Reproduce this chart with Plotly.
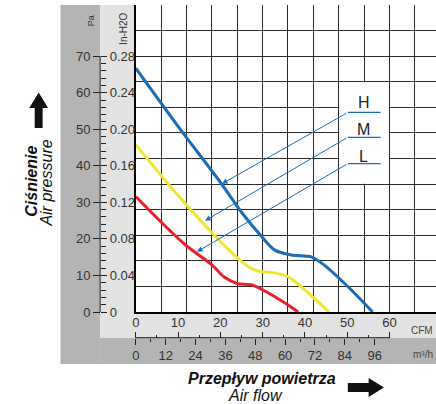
import plotly.graph_objects as go

# ---------------- data ----------------
H_cfm = [0, 10, 20, 25, 29.8, 32.8, 36.8, 41.5, 44.5, 50.2, 56]
H_pa = [66.7, 50.8, 35.5, 27.3, 20.6, 17.0, 15.6, 15.1, 12.9, 6.9, 0]
M_cfm = [0, 9.4, 18, 22.7, 25.1, 27.5, 29.8, 32.8, 36.1, 40.8, 45.7]
M_pa = [45.8, 32.7, 21.7, 16.2, 13.7, 11.8, 11.0, 10.7, 9.6, 5.2, 0]
L_cfm = [0, 5.9, 11.7, 18, 21, 24, 27.5, 31.4, 35.2, 38.4]
L_pa = [31.6, 24.7, 18.4, 12.9, 9.5, 7.8, 7.4, 5.2, 2.5, 0]

pa_ticks = [0, 10, 20, 30, 40, 50, 60, 70]
inh2o_ticks = [0, 0.04, 0.08, 0.12, 0.16, 0.20, 0.24, 0.28]
inh2o_text = ["0", "0.04", "0.08", "0.12", "0.16", "0.20", "0.24", "0.28"]
cfm_ticks = [0, 10, 20, 30, 40, 50, 60]
m3h_ticks = [0, 12, 24, 36, 48, 60, 72, 84, 96]

series_names = ["H", "M", "L"]
colors = {"H": "#1b6db3", "M": "#f2e52f", "L": "#e8202a"}

# ---------------- geometry helpers ----------------
W, Hh = 436, 404
MT, MB = 5, 40
PH = Hh - MT - MB  # paper height


def px(xp):
    return xp / W


def py(yp):
    return (Hh - MB - yp) / PH


FONT = "Liberation Sans, Arial, sans-serif"
X_MAX = 71.0
Y_MAX = 84.0
PA_PER_INH2O = 250.0
M3H_PER_CFM = 1.699

fig = go.Figure()

for name, xs, ys in [("H", H_cfm, H_pa), ("M", M_cfm, M_pa), ("L", L_cfm, L_pa)]:
    fig.add_trace(go.Scatter(x=xs, y=ys, mode="lines", name=name,
                             line=dict(color=colors[name], width=3, shape="spline", smoothing=0.8),
                             showlegend=False, hoverinfo="skip"))

# dummy traces to activate helper axes
fig.add_trace(go.Scatter(x=[None], y=[None], xaxis="x", yaxis="y2", showlegend=False))
fig.add_trace(go.Scatter(x=[None], y=[None], xaxis="x", yaxis="y3", showlegend=False))
fig.add_trace(go.Scatter(x=[None], y=[None], xaxis="x2", yaxis="y", showlegend=False))
fig.add_trace(go.Scatter(x=[None], y=[None], xaxis="x3", yaxis="y", showlegend=False))

axis_line_y = py(337.7)
tickfont = dict(family=FONT, size=13, color="#333")

fig.update_layout(
    width=W, height=Hh,
    margin=dict(l=0, r=0, t=MT, b=MB),
    paper_bgcolor="white", plot_bgcolor="white",
    xaxis=dict(domain=[px(133), 1], range=[0, X_MAX], tick0=0, dtick=6,
               showticklabels=False, ticks="", showgrid=True, gridcolor="#2a2a2a", gridwidth=1,
               showline=True, linecolor="black", linewidth=1.5, zeroline=False, fixedrange=True),
    yaxis=dict(domain=[py(312), 1], range=[0, Y_MAX], tick0=0, dtick=7,
               showticklabels=False, ticks="", showgrid=True, gridcolor="#2a2a2a", gridwidth=1,
               showline=True, linecolor="black", linewidth=1.5, zeroline=False, fixedrange=True),
    yaxis2=dict(overlaying="y", anchor="free", position=px(97), side="left",
                range=[0, Y_MAX], tickmode="array", tickvals=pa_ticks,
                ticks="outside", ticklen=7, tickcolor="#222", tickwidth=1,
                tickfont=tickfont, showgrid=False, showline=False, zeroline=False),
    yaxis3=dict(overlaying="y", anchor="free", position=px(97), side="right",
                range=[0, Y_MAX / PA_PER_INH2O], tickmode="array", tickvals=inh2o_ticks,
                ticktext=inh2o_text, ticks="outside", ticklen=6, tickcolor="#222", tickwidth=1,
                tickfont=tickfont, showgrid=False, showline=False, zeroline=False,
                minor=dict(tickmode="array",
                           tickvals=[round(i * 0.008, 3) for i in range(36) if i % 5 != 0],
                           ticks="outside", ticklen=5, tickcolor="#222", showgrid=False)),
    xaxis2=dict(overlaying="x", anchor="free", position=axis_line_y, side="top",
                range=[0, X_MAX], tickmode="array", tickvals=cfm_ticks,
                ticks="outside", ticklen=6, tickcolor="#222", tickfont=tickfont,
                showgrid=False, showline=False, zeroline=False,
                minor=dict(tickmode="array", tickvals=[5, 15, 25, 35, 45, 55],
                           ticks="outside", ticklen=3, tickcolor="#222", showgrid=False)),
    xaxis3=dict(overlaying="x", anchor="free", position=axis_line_y, side="bottom",
                range=[0, X_MAX * M3H_PER_CFM], tickmode="array", tickvals=m3h_ticks,
                ticks="outside", ticklen=6, tickcolor="#222", tickfont=tickfont,
                showgrid=False, showline=False, zeroline=False,
                minor=dict(tickmode="array", tickvals=[6, 18, 30, 42, 54, 66, 78, 90],
                           ticks="outside", ticklen=3, tickcolor="#222", showgrid=False)),
)

DARK = "#b4b4b4"
LIGHT = "#e2e2e2"
shapes = [
    dict(type="rect", xref="paper", yref="paper", x0=px(57), x1=px(97), y0=py(364), y1=py(5),
         fillcolor=DARK, line=dict(width=0), layer="below"),
    dict(type="rect", xref="paper", yref="paper", x0=px(97), x1=px(436), y0=py(364), y1=py(338),
         fillcolor=DARK, line=dict(width=0), layer="below"),
    dict(type="rect", xref="paper", yref="paper", x0=px(97), x1=px(133), y0=py(338), y1=py(5),
         fillcolor=LIGHT, line=dict(width=0), layer="below"),
    dict(type="rect", xref="paper", yref="paper", x0=px(133), x1=px(436), y0=py(338), y1=py(312),
         fillcolor=LIGHT, line=dict(width=0), layer="below"),
    # pressure axis line (0..70 Pa)
    dict(type="line", xref="paper", yref="y", x0=px(97), x1=px(97), y0=0, y1=70,
         line=dict(color="#222", width=1)),
    # flow axis line (0..60 CFM)
    dict(type="line", xref="x", yref="paper", x0=0, x1=60, y0=axis_line_y, y1=axis_line_y,
         line=dict(color="#222", width=1)),
    # white label box
    dict(type="rect", xref="x", yref="y", x0=48.12, x1=59.88, y0=35.12, y1=62.88,
         fillcolor="white", line=dict(width=0), layer="above"),
]


def poly(points):
    s = "M " + " L ".join(f"{px(a):.5f},{py(b):.5f}" for a, b in points) + " Z"
    return s


up_arrow = [(31, 128), (39, 128), (39, 108), (44.5, 108), (35, 92.5), (25.5, 108), (31, 108)]
right_arrow = [(347, 383), (368, 383), (368, 378), (383.5, 387.5), (368, 397), (368, 392), (347, 392)]
for pts in (up_arrow, right_arrow):
    shapes.append(dict(type="path", xref="paper", yref="paper", path=poly(pts),
                       fillcolor="#111", line=dict(width=0)))

# callout underlines
label_pa = {"H": 57.4, "M": 50.0, "L": 42.5}
under_pa = {"H": 54.6, "M": 47.8, "L": 40.6}
tip = {"H": (20.4, 35.1), "M": (16.4, 25.0), "L": (14.5, 16.5)}
BLUE = "#1b6db3"
for n in series_names:
    shapes.append(dict(type="line", xref="x", yref="y", x0=50.15, x1=57.9,
                       y0=under_pa[n], y1=under_pa[n], line=dict(color=BLUE, width=1.2)))

fig.update_layout(shapes=shapes)

ann = []
for n in series_names:
    ann.append(dict(xref="x", yref="y", x=53.9, y=label_pa[n], text=n, showarrow=False,
                    font=dict(family=FONT, size=16, color="#222"), xanchor="center", yanchor="middle"))
    ann.append(dict(xref="x", yref="y", axref="x", ayref="y", x=tip[n][0], y=tip[n][1],
                    ax=50.15, ay=under_pa[n], text="", showarrow=True, arrowhead=2,
                    arrowsize=1.1, arrowwidth=1, arrowcolor=BLUE))


def txt(x, y, text, size, angle=0, color="#222"):
    ann.append(dict(xref="paper", yref="paper", x=px(x), y=py(y), text=text, showarrow=False,
                    textangle=angle, font=dict(family=FONT, size=size, color=color),
                    xanchor="center", yanchor="middle"))


txt(88, 21, "Pa", 9, -90, "#333")
txt(121, 29, "In-H2O", 10, -90, "#333")
txt(27, 181, "<b><i>Ciśnienie</i></b>", 16, -90, "#111")
txt(43, 183, "<i>Air pressure</i>", 16, -90, "#111")
txt(260, 378, "<b><i>Przepływ powietrza</i></b>", 16, 0, "#111")
txt(254, 395, "<i>Air flow</i>", 16, 0, "#111")
txt(422, 330, "CFM", 10, 0, "#444")
txt(423, 354, "m³/h", 10, 0, "#444")

fig.update_layout(annotations=ann)
fig.write_html("out.html", config={"displayModeBar": False},
               post_script="document.body.style.margin='0';document.body.style.padding='0';")
